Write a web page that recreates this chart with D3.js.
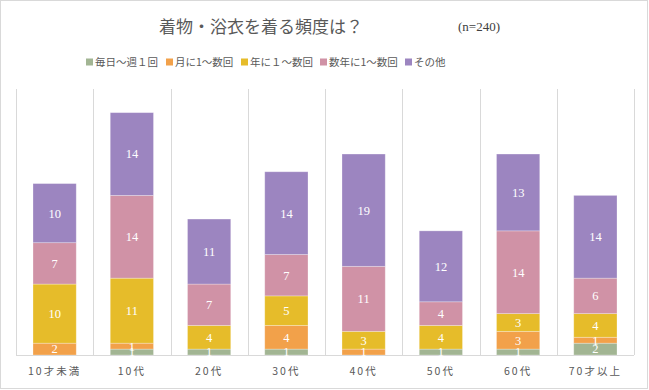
<!DOCTYPE html>
<html><head><meta charset="utf-8">
<script src="https://cdn.jsdelivr.net/npm/d3@7"></script>
<style>
html,body{margin:0;padding:0;background:#fff;}
svg{display:block;}
</style></head>
<body>
<svg id="chart" width="649" height="390"></svg>
<script>
const categories = ["10才未満","10代","20代","30代","40代","50代","60代","70才以上"];
const seriesNames = ["毎日～週１回","月に1～数回","年に１～数回","数年に1～数回","その他"];
const daily   = [0, 1, 1, 1, 0, 1, 1, 2];
const monthly = [2, 1, 0, 4, 1, 0, 3, 1];
const yearly  = [10,11, 4, 5, 3, 4, 3, 4];
const fewYears= [7, 14, 7, 7, 11, 4, 14, 6];
const other   = [10,14,11,14,19,12,13,14];
const colors = ["#a2b593","#f2a14a","#e6bc2a","#d092a6","#9c85c0"];
const title = "着物・浴衣を着る頻度は？";
const note = "(n=240)";

const seriesValues = [daily, monthly, yearly, fewYears, other];
const rows = categories.map((c,i)=>{
  const r = {cat:c};
  seriesNames.forEach((s,j)=>r[s]=seriesValues[j][i]);
  return r;
});
const stack = d3.stack().keys(seriesNames)(rows);

const svg = d3.select("#chart");
const W=649,H=390;
svg.append("rect").attr("x",0.5).attr("y",0.5).attr("width",W-2).attr("height",H-2)
  .attr("fill","#fff").attr("stroke","#d9d9d9").attr("stroke-width",1);

const x = d3.scaleBand().domain(categories).range([16,634]).paddingInner(0.44).paddingOuter(0.22);
const y = d3.scaleLinear().domain([0,45]).range([355,89]);

const step = x.step();
const gridX = d3.range(categories.length+1).map(i=>16+i*step);
svg.append("g").selectAll("line").data(gridX).join("line")
  .attr("x1",d=>Math.round(d)+0.5).attr("x2",d=>Math.round(d)+0.5)
  .attr("y1",y(45)).attr("y2",y(0))
  .attr("stroke","#d9d9d9").attr("stroke-width",1);

const layers = svg.append("g").selectAll("g").data(stack).join("g")
  .attr("fill",(d,i)=>colors[i]);
layers.selectAll("rect").data(d=>d).join("rect")
  .attr("x",d=>x(d.data.cat))
  .attr("width",x.bandwidth())
  .attr("y",d=>y(d[1]))
  .attr("height",d=>y(d[0])-y(d[1]))
  .attr("stroke","#ffffff").attr("stroke-opacity",0.35).attr("stroke-width",0.8);

svg.append("line").attr("x1",16).attr("x2",634).attr("y1",355.5).attr("y2",355.5)
  .attr("stroke","#d9d9d9").attr("stroke-width",1);

const labelFont = "'Liberation Serif','Noto Sans CJK JP',serif";
const lab = svg.append("g");
stack.forEach((layer)=>{
  layer.forEach(d=>{
    const v = d[1]-d[0];
    if(v<=0) return;
    lab.append("text")
      .attr("x",x(d.data.cat)+x.bandwidth()/2)
      .attr("y",(y(d[0])+y(d[1]))/2)
      .attr("dy","0.35em")
      .attr("text-anchor","middle")
      .attr("fill","#ffffff")
      .attr("font-family",labelFont)
      .attr("font-size",12.5)
      .text(v);
  });
});

// x axis labels
svg.append("g").selectAll("text").data(categories).join("text")
  .attr("x",d=>x(d)+x.bandwidth()/2)
  .attr("y",375)
  .attr("text-anchor","middle")
  .attr("fill","#595959")
  .attr("font-family","'Noto Sans CJK JP',sans-serif")
  .attr("font-size",10.5)
  .attr("letter-spacing","2px")
  .text(d=>d);

// title
svg.append("text").attr("x",261).attr("y",33).attr("text-anchor","middle")
  .attr("fill","#595959").attr("font-family","'Noto Sans CJK JP',sans-serif")
  .attr("font-size",17).text(title);
svg.append("text").attr("x",479).attr("y",31).attr("text-anchor","middle")
  .attr("fill","#404040").attr("font-family","'Liberation Serif','Noto Sans CJK JP',serif")
  .attr("font-size",13).text(note);

// legend
const leg = svg.append("g");
const lx = [86,166,241,320,405];
seriesNames.forEach((s,i)=>{
  const g = leg.append("g").attr("transform",`translate(${lx[i]},62)`);
  g.append("rect").attr("x",0).attr("y",-3.5).attr("width",7).attr("height",7).attr("fill",colors[i]);
  g.append("text").attr("x",9).attr("y",0).attr("dy","0.35em")
    .attr("fill","#595959").attr("font-family","'Noto Sans CJK JP',sans-serif")
    .attr("font-size",10.5).text(s);
});
</script>
</body></html>
